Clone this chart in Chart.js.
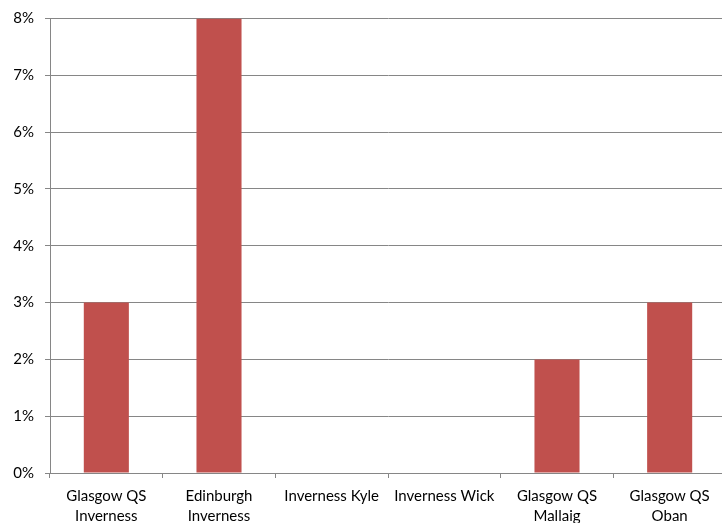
<!DOCTYPE html>
<html>
<head>
<meta charset="utf-8">
<script src="https://cdn.jsdelivr.net/npm/chart.js@4/dist/chart.umd.min.js"></script>
<style>
  html, body { margin: 0; padding: 0; background: #fff; overflow: hidden; }
  #wrap { width: 728px; height: 540px; }
</style>
</head>
<body>
<div id="wrap"><canvas id="routeChart" width="728" height="540"></canvas></div>
<script>
// Share of journeys per route
const routeLabels = [
    ['Glasgow QS', 'Inverness'],
    ['Edinburgh', 'Inverness'],
    'Inverness Kyle',
    'Inverness Wick',
    ['Glasgow QS', 'Mallaig'],
    ['Glasgow QS', 'Oban']
];
const routeShares = [0.03, 0.08, 0, 0, 0.02, 0.03];

const barColor = '#C0504D';
const axisColor = '#868686';
const fontFamily = 'Lato, "Open Sans", sans-serif';

new Chart(document.getElementById('routeChart'), {
    type: 'bar',
    data: {
        labels: routeLabels,
        datasets: [{
            label: 'share',
            data: routeShares,
            backgroundColor: barColor,
            borderWidth: 0,
            categoryPercentage: 1,
            barPercentage: 0.4
        }]
    },
    options: {
        responsive: false,
        animation: false,
        layout: { padding: { top: 18, right: 2, left: 0, bottom: 0 } },
        plugins: {
            legend: { display: false },
            tooltip: { enabled: false }
        },
        scales: {
            x: {
                grid: {
                    offset: true,
                    drawOnChartArea: false,
                    color: axisColor,
                    tickLength: 5
                },
                border: { color: axisColor },
                ticks: {
                    color: '#000',
                    font: { family: fontFamily, size: 15, lineHeight: 1.35 },
                    padding: 8,
                    maxRotation: 0,
                    autoSkip: false
                },
                afterFit: function (scale) { scale.height = 67; }
            },
            y: {
                min: 0,
                max: 0.08,
                grid: { color: axisColor, tickLength: 5 },
                border: { color: axisColor },
                ticks: {
                    stepSize: 0.01,
                    color: '#000',
                    font: { family: fontFamily, size: 15, lineHeight: 1 },
                    padding: 11,
                    callback: v => Math.round(v * 100) + '%'
                },
                afterFit: function (scale) { scale.width = 50; }
            }
        }
    }
});
</script>
</body>
</html>
